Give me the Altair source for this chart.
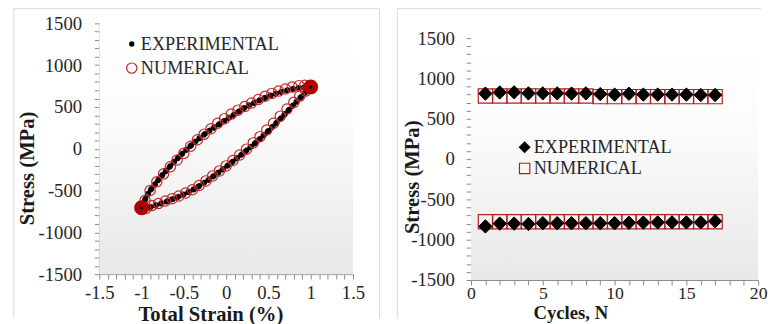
import altair as alt
import pandas as pd

# ---------------- data: left panel (hysteresis loop) ----------------
NUM_UP_STRAIN = [0.93, 0.86, 0.78, 0.70, 0.62, 0.54, 0.46, 0.38, 0.30, 0.22, 0.14, 0.06, -0.02,
                 -0.10, -0.18, -0.26, -0.34, -0.42, -0.50, -0.58, -0.66, -0.74, -0.82, -0.90, -0.96]
NUM_UP_STRESS = [760, 755, 738, 715, 690, 662, 628, 590, 548, 505, 462, 415, 360,
                 305, 240, 175, 108, 30, -55, -135, -215, -300, -395, -500, -620]
NUM_LO_STRAIN = [-0.95, -0.88, -0.80, -0.72, -0.64, -0.56, -0.48, -0.40, -0.32, -0.24, -0.16, -0.08, 0.00,
                 0.08, 0.16, 0.24, 0.32, 0.40, 0.48, 0.56, 0.64, 0.72, 0.80, 0.87, 0.94]
NUM_LO_STRESS = [-715, -680, -655, -625, -598, -565, -530, -490, -440, -385, -325, -265, -205,
                 -140, -75, -5, 70, 145, 225, 305, 390, 475, 555, 630, 690]

EXP_STRAIN = [1.0, 0.9, 0.8, 0.7, 0.6, 0.5, 0.4, 0.3, 0.2, 0.1, 0.0, -0.1, -0.2, -0.3, -0.4, -0.5,
              -0.6, -0.7, -0.8, -0.9, -0.95, -1.0, -0.9, -0.8, -0.7, -0.6, -0.5, -0.4, -0.3, -0.2,
              -0.1, 0.0, 0.1, 0.2, 0.3, 0.4, 0.5, 0.6, 0.7, 0.8, 0.9, 1.0]
EXP_STRESS = [740, 735, 718, 695, 665, 627, 583, 533, 480, 413, 348, 282, 215, 140, 55, -40,
              -140, -250, -370, -500, -585, -705, -700, -665, -630, -590, -545, -495, -435, -365,
              -290, -215, -135, -55, 30, 120, 215, 315, 420, 530, 635, 740]

TIP_STRAIN = [-1.0, 1.0]
TIP_STRESS = [-705, 740]

# ---------------- data: right panel (peak stresses per cycle) ----------------
CYCLES = [1, 2, 3, 4, 5, 6, 7, 8, 9, 10, 11, 12, 13, 14, 15, 16, 17]
EXP_MAX = [812, 826, 828, 815, 815, 815, 812, 815, 806, 800, 810, 800, 800, 800, 800, 795, 795]
EXP_MIN = [-835, -800, -800, -805, -795, -795, -795, -795, -795, -795, -790, -788, -785, -785, -785, -785, -770]
NUM_MAX = [782, 782, 782, 782, 782, 782, 782, 782, 775, 775, 775, 775, 775, 775, 775, 775, 775]
NUM_MIN = [-778, -778, -778, -778, -778, -778, -778, -778, -778, -778, -778, -778, -778, -778, -778, -778, -778]

SERIES = ["EXPERIMENTAL", "NUMERICAL"]
STRAIN_LABELS = [-1.5, -1, -0.5, 0, 0.5, 1, 1.5]
STRESS_LABELS = [-1500, -1000, -500, 0, 500, 1000, 1500]
CYCLE_LABELS = [0, 5, 10, 15, 20]

# ---------------- styling ----------------
FONT = "Liberation Serif"
RED_C = "#c62828"
RED_S = "#b71c1c"
AX_GREY = "#8a8a8a"
FRAME = "#d9d9d9"
TICK_FS = 19
LEG_FS = 18.5
TITLE_FS = 21

strain_ticks = [round(-1.5 + 0.1 * i, 1) for i in range(31)]
stress_ticks = [-1500 + 100 * i for i in range(31)]
cycle_ticks = [i for i in range(21)]


def label_expr(labels):
    arr = "[" + ",".join(str(v) for v in labels) + "]"
    return f"indexof({arr}, datum.value) >= 0 ? '' + datum.value : ''"


gradient = alt.Gradient(
    gradient="linear", x1=0, x2=0, y1=0, y2=1,
    stops=[alt.GradientStop(color="#ffffff", offset=0),
           alt.GradientStop(color="#fbfbfb", offset=0.4),
           alt.GradientStop(color="#e8e8e8", offset=1)])

one = pd.DataFrame({"k": [0]})

# ================= LEFT =================
LW, LH = 258, 255
ax_strain = alt.Axis(values=strain_ticks, labelExpr=label_expr(STRAIN_LABELS), title="Total Strain (%)",
                     labelPadding=5, titleX=113, titleY=30, labelFlush=False)
ax_stress_l = alt.Axis(values=stress_ticks, labelExpr=label_expr(STRESS_LABELS), title="Stress (MPa)",
                       labelPadding=13, titleX=-63, titleY=147)
xs = alt.X("strain:Q", scale=alt.Scale(domain=[-1.5, 1.5], nice=False, zero=False), axis=ax_strain)
ys = alt.Y("stress:Q", scale=alt.Scale(domain=[-1500, 1500], nice=False), axis=ax_stress_l)

left_num = pd.DataFrame({"strain": NUM_UP_STRAIN + NUM_LO_STRAIN,
                         "stress": NUM_UP_STRESS + NUM_LO_STRESS,
                         "series": "NUMERICAL"})
left_exp = pd.DataFrame({"strain": EXP_STRAIN, "stress": EXP_STRESS, "step": list(range(len(EXP_STRAIN)))})
tips = pd.DataFrame({"strain": TIP_STRAIN, "stress": TIP_STRESS})

bg_l = alt.Chart(one).mark_rect(color=gradient).encode(
    x=alt.value(0), x2=alt.value(LW), y=alt.value(0), y2=alt.value(LH))
fr_l1 = alt.Chart(one).mark_rule(color=FRAME, strokeWidth=1).encode(
    x=alt.value(-87), x2=alt.value(285), y=alt.value(-15))
fr_l2 = alt.Chart(one).mark_rule(color=FRAME, strokeWidth=1).encode(
    x=alt.value(-87), y=alt.value(-15), y2=alt.value(300))
fr_l3 = alt.Chart(one).mark_rule(color=FRAME, strokeWidth=1).encode(
    x=alt.value(285), y=alt.value(-15), y2=alt.value(300))

exp_line = alt.Chart(left_exp).mark_line(
    color="black", strokeWidth=6, strokeCap="round", strokeDash=[0.5, 5.5]
).encode(x=xs, y=ys, order="step:Q")

leg_l = alt.Legend(title=None, orient="none", legendX=23.75, legendY=11.75, rowPadding=5.5,
                   labelOffset=0, padding=0)
num_pts = alt.Chart(left_num).mark_point(shape="circle", strokeWidth=1.2, opacity=1).encode(
    x=xs, y=ys,
    fill=alt.Fill("series:N", scale=alt.Scale(domain=SERIES, range=["black", "transparent"]), legend=leg_l),
    stroke=alt.Stroke("series:N", scale=alt.Scale(domain=SERIES, range=["black", RED_C]), legend=leg_l),
    size=alt.Size("series:N", scale=alt.Scale(domain=SERIES, range=[18, 110]), legend=leg_l),
)
tip_blob = alt.Chart(tips).mark_circle(color="#b00000", size=230, opacity=1).encode(x=xs, y=ys)
tip_dot = alt.Chart(tips).mark_circle(color="black", size=10, opacity=1).encode(x=xs, y=ys)

left = alt.layer(bg_l, fr_l1, fr_l2, fr_l3, exp_line, num_pts, tip_blob, tip_dot).properties(
    width=LW, height=LH)

# ================= RIGHT =================
RW, RTOP, RH = 292, 15, 261   # plot occupies rows RTOP..RH of the panel group
ax_cyc = alt.Axis(values=cycle_ticks, labelExpr=label_expr(CYCLE_LABELS), title="Cycles, N",
                  labelPadding=0, labelFontSize=18, titleX=101, titleY=24, titleFontSize=19,
                  labelFlush=False)
ax_stress_r = alt.Axis(values=stress_ticks, labelExpr=label_expr(STRESS_LABELS), title="Stress (MPa)",
                       labelPadding=12, titleX=-49, titleY=156)
xr = alt.X("cycle:Q", scale=alt.Scale(domain=[0, 20], nice=False), axis=ax_cyc)
yr = alt.Y("stress:Q", scale=alt.Scale(domain=[-1500, 1500], nice=False, range=[RH, RTOP]),
           axis=ax_stress_r)

right_df = pd.DataFrame({
    "cycle": CYCLES * 4,
    "stress": EXP_MAX + EXP_MIN + NUM_MAX + NUM_MIN,
    "series": ["EXPERIMENTAL"] * 34 + ["NUMERICAL"] * 34,
})

leg_r = alt.Legend(title=None, orient="none", legendX=45.25, legendY=116.75, rowPadding=2.5,
                   labelOffset=0, padding=0, symbolSize=110)
enc_r = dict(
    x=xr, y=yr,
    shape=alt.Shape("series:N", scale=alt.Scale(domain=SERIES, range=["diamond", "square"]), legend=leg_r),
    fill=alt.Fill("series:N", scale=alt.Scale(domain=SERIES, range=["black", "transparent"]), legend=leg_r),
    stroke=alt.Stroke("series:N", scale=alt.Scale(domain=SERIES, range=["black", RED_S]), legend=leg_r),
)
bg_r = alt.Chart(one).mark_rect(color=gradient).encode(
    x=alt.value(0), x2=alt.value(RW), y=alt.value(RTOP), y2=alt.value(RH))
fr_r1 = alt.Chart(one).mark_rule(color=FRAME, strokeWidth=1).encode(
    x=alt.value(-75), x2=alt.value(295), y=alt.value(-15))
fr_r2 = alt.Chart(one).mark_rule(color=FRAME, strokeWidth=1).encode(
    x=alt.value(-75), y=alt.value(-15), y2=alt.value(300))

sq = alt.Chart(right_df).transform_filter(alt.datum.series == "NUMERICAL").mark_point(
    size=210, strokeWidth=1.2, opacity=1).encode(**enc_r)
dm = alt.Chart(right_df).transform_filter(alt.datum.series == "EXPERIMENTAL").mark_point(
    size=185, strokeWidth=1, opacity=1).encode(**enc_r)

right = alt.layer(bg_r, fr_r1, fr_r2, sq, dm).properties(width=RW, height=RH)

chart = alt.hconcat(left, right, spacing=16).resolve_scale(
    fill="independent", stroke="independent", shape="independent", size="independent"
).resolve_legend(
    fill="independent", stroke="independent", shape="independent", size="independent"
).properties(
    padding={"left": 13, "top": 5, "right": 0, "bottom": 0}
).configure_view(stroke="transparent").configure_axis(
    labelFont=FONT, labelFontSize=TICK_FS, labelColor="#262626",
    titleFont=FONT, titleFontSize=TITLE_FS, titleFontWeight="bold", titleColor="#1a1a1a",
    domainColor=AX_GREY, tickColor=AX_GREY, tickSize=5, grid=False, labelOverlap=False,
).configure_legend(
    labelFont=FONT, labelFontSize=LEG_FS, labelColor="#262626", symbolStrokeWidth=1.2,
)

chart.save("out.html", embed_options={"renderer": "svg", "actions": False})
